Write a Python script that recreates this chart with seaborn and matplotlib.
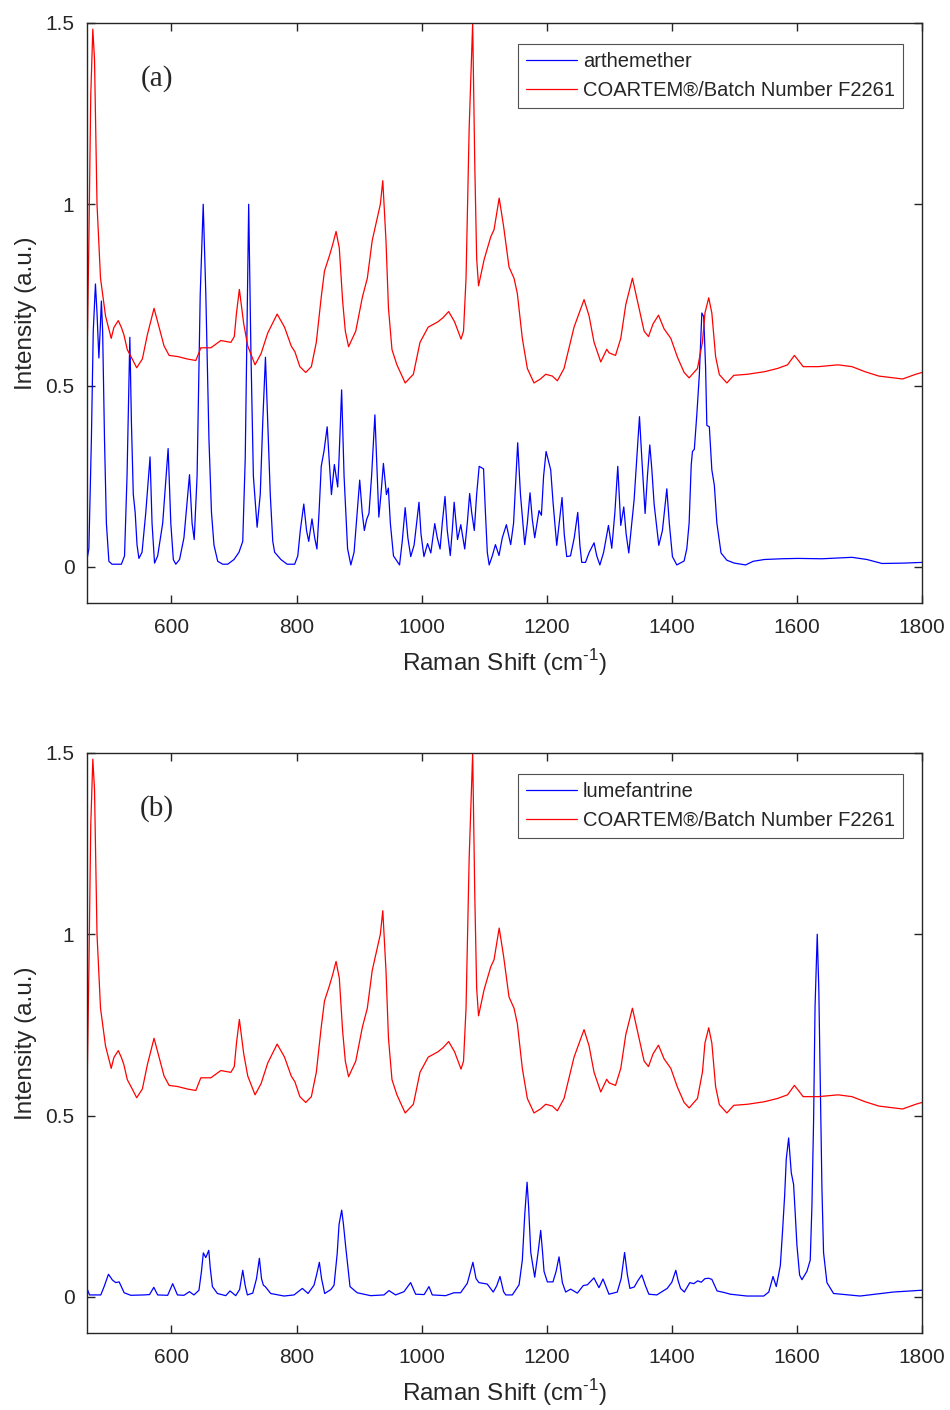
import matplotlib
matplotlib.use("Agg")
import matplotlib.pyplot as plt
import seaborn as sns
import pandas as pd

# ---------------- data ----------------
art_x = [465, 468, 472, 475, 478.5, 481, 484, 486, 488, 490, 493, 496, 500, 505, 520, 525, 529, 533.5, 536, 539,
         542, 545, 548, 553, 559, 565.8, 569, 573, 578, 586, 594.7, 599, 603, 607, 613, 620, 628.9, 633, 636.4, 641,
         646, 650.8, 655, 660, 664, 668, 674, 682, 690, 700, 708, 714, 718, 723.5, 727, 731, 737, 742, 746, 750.3,
         754, 758, 762, 765, 775, 785, 797, 802, 806, 811.6, 816, 819.5, 824.7, 829, 832.6, 836, 839.5, 844, 849, 852,
         855.8, 860.5, 865.8, 868, 872.1, 876, 881.6, 886.8, 892, 897, 901, 905, 908.4, 912, 915.8, 920, 925.3, 928,
         931.6, 935, 938.9, 943.7, 946.8, 950, 955, 964.7, 969, 973.7, 978, 982.6, 988, 995.8, 999, 1003.7, 1009.5,
         1014.7, 1021, 1025, 1029.5, 1033, 1037.4, 1041, 1045.8, 1049, 1052, 1057.4, 1062.6, 1068.9, 1073, 1076.8,
         1080, 1084.2, 1088, 1092, 1099, 1102, 1105, 1108, 1113, 1118, 1123.7, 1129, 1135.5, 1142.4, 1147, 1153.6,
         1158, 1164.8, 1169, 1173.3, 1177, 1180.8, 1187.7, 1191.5, 1195, 1199, 1206.4, 1210, 1216, 1220, 1224.5,
         1228, 1232, 1238, 1244, 1249.6, 1253, 1256, 1262, 1268, 1275.7, 1280, 1285, 1291, 1298.7, 1304, 1309,
         1313.6, 1318.4, 1323.2, 1327, 1331.2, 1336, 1339.7, 1344, 1348.3, 1352, 1357.3, 1361, 1364.8, 1368, 1371.7,
         1379.2, 1385, 1392, 1396, 1401, 1408, 1419.7, 1424, 1427.7, 1431, 1433, 1436, 1440, 1444, 1448, 1451, 1454,
         1456, 1460, 1464, 1468, 1472, 1478.7, 1488, 1500, 1518, 1530, 1548, 1575, 1601.6, 1640, 1688, 1712, 1736,
         1770, 1800]
art_y = [0.02, 0.05, 0.35, 0.65, 0.78, 0.70, 0.576, 0.65, 0.733, 0.65, 0.35, 0.12, 0.015, 0.007, 0.007, 0.03, 0.25,
         0.633, 0.40, 0.20, 0.15, 0.06, 0.023, 0.04, 0.15, 0.303, 0.12, 0.01, 0.03, 0.12, 0.326, 0.12, 0.02, 0.007,
         0.02, 0.08, 0.254, 0.12, 0.075, 0.25, 0.75, 1.0, 0.75, 0.35, 0.15, 0.06, 0.015, 0.007, 0.007, 0.02, 0.04,
         0.07, 0.3, 1.0, 0.6, 0.25, 0.109, 0.2, 0.4, 0.578, 0.4, 0.2, 0.07, 0.04, 0.02, 0.007, 0.007, 0.03, 0.1,
         0.173, 0.1, 0.07, 0.132, 0.08, 0.049, 0.15, 0.277, 0.32, 0.386, 0.3, 0.199, 0.282, 0.22, 0.3, 0.488, 0.25,
         0.05, 0.005, 0.04, 0.15, 0.239, 0.15, 0.10, 0.13, 0.147, 0.25, 0.419, 0.3, 0.137, 0.2, 0.285, 0.199, 0.217,
         0.12, 0.03, 0.005, 0.07, 0.163, 0.08, 0.028, 0.06, 0.178, 0.09, 0.028, 0.064, 0.038, 0.119, 0.08, 0.049,
         0.12, 0.194, 0.1, 0.031, 0.1, 0.178, 0.075, 0.116, 0.049, 0.12, 0.202, 0.15, 0.10, 0.2, 0.277, 0.27, 0.15,
         0.04, 0.005, 0.03, 0.061, 0.031, 0.08, 0.116, 0.061, 0.12, 0.342, 0.2, 0.061, 0.12, 0.204, 0.13, 0.08,
         0.155, 0.142, 0.25, 0.318, 0.267, 0.18, 0.059, 0.12, 0.191, 0.09, 0.028, 0.03, 0.08, 0.15, 0.06, 0.012,
         0.012, 0.04, 0.066, 0.03, 0.005, 0.04, 0.114, 0.051, 0.15, 0.277, 0.114, 0.165, 0.09, 0.038, 0.12, 0.184,
         0.3, 0.414, 0.3, 0.147, 0.25, 0.336, 0.27, 0.173, 0.059, 0.1, 0.215, 0.12, 0.028, 0.005, 0.016, 0.05,
         0.121, 0.28, 0.318, 0.324, 0.42, 0.53, 0.70, 0.69, 0.55, 0.39, 0.386, 0.267, 0.225, 0.121, 0.038, 0.018,
         0.01, 0.005, 0.015, 0.02, 0.022, 0.023, 0.022, 0.026, 0.02, 0.009, 0.01, 0.012]

coa_x = [465, 468, 471, 474.3, 477, 481, 486.6, 494.6, 503.7, 508, 515, 520, 524, 529.4, 537.4, 544.4, 553.5, 561.5,
         572.2, 580.2, 588.2, 596.3, 609.6, 625.7, 639, 647, 663, 679, 695, 700.5, 704, 708.6, 715.5, 722, 733.7,
         743.3, 754, 769, 780.8, 791.5, 797.4, 805.3, 814.7, 823.7, 831.6, 839.5, 844.7, 852.6, 858, 863.2, 868.4,
         873.7, 878, 883.2, 894.7, 905.3, 913.2, 921, 929, 934, 937.9, 943, 947, 952.6, 960.5, 973.7, 986.8, 997.4,
         1010.5, 1026.3, 1034.2, 1043.2, 1052.6, 1063, 1067, 1071, 1076, 1081.6, 1085, 1088, 1091, 1100, 1110.5,
         1115.8, 1124, 1131, 1139.7, 1147.7, 1153, 1161, 1169, 1179.7, 1190, 1198.4, 1209, 1217, 1227.7, 1243.7,
         1259.7, 1267.7, 1275.7, 1286.4, 1296, 1299.7, 1310, 1318.4, 1326.4, 1337, 1345, 1355.7, 1362.7, 1370,
         1378.7, 1387.7, 1398.4, 1409, 1419.7, 1427.7, 1441, 1449, 1453, 1459, 1464, 1470, 1476, 1488, 1499, 1521,
         1548, 1569, 1585, 1596, 1602, 1610, 1634, 1666, 1688, 1709, 1731, 1769, 1790, 1800]
coa_y = [0.56, 0.9, 1.3, 1.483, 1.40, 1.00, 0.796, 0.692, 0.63, 0.66, 0.679, 0.66, 0.64, 0.599, 0.573, 0.549, 0.573,
         0.64, 0.713, 0.661, 0.609, 0.583, 0.58, 0.573, 0.569, 0.604, 0.604, 0.624, 0.619, 0.635, 0.70, 0.765,
         0.671, 0.609, 0.557, 0.588, 0.645, 0.697, 0.661, 0.609, 0.593, 0.552, 0.536, 0.552, 0.619, 0.744, 0.816,
         0.858, 0.89, 0.925, 0.879, 0.733, 0.65, 0.607, 0.65, 0.744, 0.796, 0.9, 0.962, 1.0, 1.065, 0.9, 0.713,
         0.599, 0.557, 0.507, 0.531, 0.619, 0.661, 0.676, 0.687, 0.704, 0.676, 0.628, 0.65, 0.796, 1.21, 1.5,
         1.107, 0.85, 0.775, 0.848, 0.91, 0.93, 1.017, 0.94, 0.827, 0.796, 0.754, 0.63, 0.547, 0.507, 0.518,
         0.531, 0.526, 0.513, 0.547, 0.661, 0.737, 0.692, 0.619, 0.565, 0.6, 0.59, 0.583, 0.63, 0.723, 0.796,
         0.733, 0.65, 0.635, 0.67, 0.694, 0.656, 0.63, 0.578, 0.536, 0.521, 0.547, 0.62, 0.70, 0.742, 0.70, 0.58,
         0.53, 0.507, 0.528, 0.531, 0.538, 0.547, 0.557, 0.583, 0.57, 0.552, 0.552, 0.557, 0.552, 0.538, 0.526,
         0.518, 0.531, 0.536]

lum_x = [465, 469, 487, 492.4, 499.3, 505.7, 511, 516.4, 524.4, 535, 556, 565, 571.8, 578, 594, 602, 609.6, 620,
         628.8, 636, 644, 648, 651, 654.9, 659.7, 662, 665.5, 673.5, 686.8, 693.7, 702.8, 709, 714, 718, 721.4, 730,
         736, 740.6, 744, 747, 750, 758.7, 780, 796, 809.3, 818.4, 828, 832, 836.5, 840, 845, 855, 860, 865, 868,
         872.2, 875, 878.6, 885.5, 897, 918.5, 939.8, 947.8, 958.4, 971.8, 982.4, 990.4, 1004, 1011.7, 1017, 1038.3,
         1051.6, 1062.3, 1073, 1082, 1087, 1091.6, 1104.9, 1114.5, 1120, 1125.3, 1131, 1134.6, 1145, 1155.8, 1161,
         1165, 1168.6, 1171, 1174.5, 1180.8, 1186, 1190.4, 1193, 1195.7, 1201, 1210, 1215, 1219.7, 1225, 1230.3,
         1238.3, 1249, 1258.5, 1265, 1275.5, 1283.5, 1290, 1299.5, 1312.8, 1319, 1324.5, 1329, 1333, 1340, 1346,
         1352, 1358, 1363.3, 1376, 1392.6, 1400, 1406.4, 1410, 1414, 1420, 1428.8, 1435, 1441.5, 1447, 1453, 1459,
         1464, 1472.4, 1483, 1493.7, 1520, 1547, 1555, 1561.8, 1567, 1573.5, 1577, 1580.4, 1583, 1586.8, 1591,
         1594.7, 1597, 1600, 1604.3, 1608, 1616, 1621.3, 1624, 1626.7, 1629, 1632.5, 1635, 1637.3, 1640, 1642.6,
         1648, 1658.6, 1701, 1754, 1800]
lum_y = [0.023, 0.005, 0.005, 0.028, 0.062, 0.046, 0.039, 0.041, 0.011, 0.004, 0.005, 0.006, 0.026, 0.005, 0.004,
         0.036, 0.005, 0.004, 0.014, 0.005, 0.018, 0.07, 0.121, 0.108, 0.128, 0.08, 0.028, 0.009, 0.003, 0.016,
         0.003, 0.02, 0.073, 0.03, 0.005, 0.01, 0.05, 0.106, 0.05, 0.032, 0.028, 0.009, 0.002, 0.005, 0.023, 0.009,
         0.032, 0.06, 0.095, 0.05, 0.009, 0.02, 0.032, 0.119, 0.2, 0.239, 0.2, 0.138, 0.028, 0.011, 0.003, 0.005,
         0.017, 0.005, 0.014, 0.039, 0.007, 0.006, 0.028, 0.005, 0.003, 0.011, 0.011, 0.037, 0.095, 0.05, 0.039,
         0.035, 0.013, 0.03, 0.056, 0.014, 0.005, 0.005, 0.033, 0.101, 0.23, 0.316, 0.25, 0.122, 0.054, 0.12, 0.183,
         0.13, 0.07, 0.041, 0.041, 0.07, 0.11, 0.039, 0.013, 0.021, 0.01, 0.031, 0.033, 0.052, 0.025, 0.049, 0.007,
         0.013, 0.05, 0.122, 0.06, 0.023, 0.027, 0.045, 0.06, 0.03, 0.007, 0.005, 0.023, 0.04, 0.073, 0.045, 0.023,
         0.013, 0.039, 0.036, 0.044, 0.04, 0.05, 0.051, 0.048, 0.016, 0.012, 0.007, 0.002, 0.002, 0.013, 0.056,
         0.028, 0.086, 0.18, 0.279, 0.38, 0.438, 0.342, 0.31, 0.24, 0.143, 0.06, 0.047, 0.07, 0.101, 0.25, 0.488,
         0.8, 1.0, 0.85, 0.592, 0.3, 0.122, 0.039, 0.009, 0.002, 0.013, 0.018]

x_ticks = [600, 800, 1000, 1200, 1400, 1600, 1800]
y_ticks = [0, 0.5, 1, 1.5]
y_tick_labels = ["0", "0.5", "1", "1.5"]
coartem_label = "COARTEM®/Batch Number F2261"
panels = [("(a)", "arthemether", art_x, art_y), ("(b)", "lumefantrine", lum_x, lum_y)]

# ---------------- style ----------------
sns.set_theme(style="ticks")
plt.rcParams["font.family"] = ["Liberation Sans", "DejaVu Sans"]
plt.rcParams["mathtext.fontset"] = "custom"
plt.rcParams["mathtext.rm"] = "Liberation Sans"
plt.rcParams["axes.edgecolor"] = "#262626"
plt.rcParams["axes.linewidth"] = 1.0

fig = plt.figure(figsize=(9.5, 14.1), dpi=100)
left, width, height = 87 / 950, 835 / 950, 580 / 1410
bottoms = [1 - 603 / 1410, 1 - 1333 / 1410]

for (tag, name, xs, ys), b in zip(panels, bottoms):
    ax = fig.add_axes([left, b, width, height])
    d_blue = pd.DataFrame({"x": xs, "y": ys})
    d_red = pd.DataFrame({"x": coa_x, "y": coa_y})
    sns.lineplot(data=d_blue, x="x", y="y", sort=False, estimator=None, color="#0000ff",
                 lw=0.9, label=name, ax=ax)
    sns.lineplot(data=d_red, x="x", y="y", sort=False, estimator=None, color="#ff0000",
                 lw=0.9, label=coartem_label, ax=ax)
    ax.set_xlim(465, 1800)
    ax.set_ylim(-0.1, 1.5)
    ax.set_xticks(x_ticks)
    ax.set_yticks(y_ticks)
    ax.set_yticklabels(y_tick_labels)
    ax.tick_params(direction="in", top=True, right=True, length=6, width=1.0,
                   labelsize=15, colors="#262626")
    ax.tick_params(axis="x", pad=11)
    ax.tick_params(axis="y", pad=9)
    for s in ax.spines.values():
        s.set_visible(True)
    ax.set_xlabel(r"Raman Shift (cm$^{\text{-1}}$)", fontsize=17.5, labelpad=7, color="#262626")
    ax.set_ylabel("Intensity (a.u.)", fontsize=17.5, labelpad=6, color="#262626")
    ax.text(0.084, 0.905, tag, transform=ax.transAxes, fontsize=21, ha="center", va="center",
            family=["Liberation Serif", "DejaVu Serif"])
    leg = ax.legend(loc="upper right", bbox_to_anchor=(0.977, 0.964), fontsize=14.5,
                    frameon=True, fancybox=False, handlelength=2.5, handletextpad=0.3,
                    borderpad=0.4, labelspacing=0.5, borderaxespad=0)
    leg.get_frame().set_edgecolor("#262626")
    leg.get_frame().set_linewidth(0.8)

fig.savefig("out.png", dpi=100)
